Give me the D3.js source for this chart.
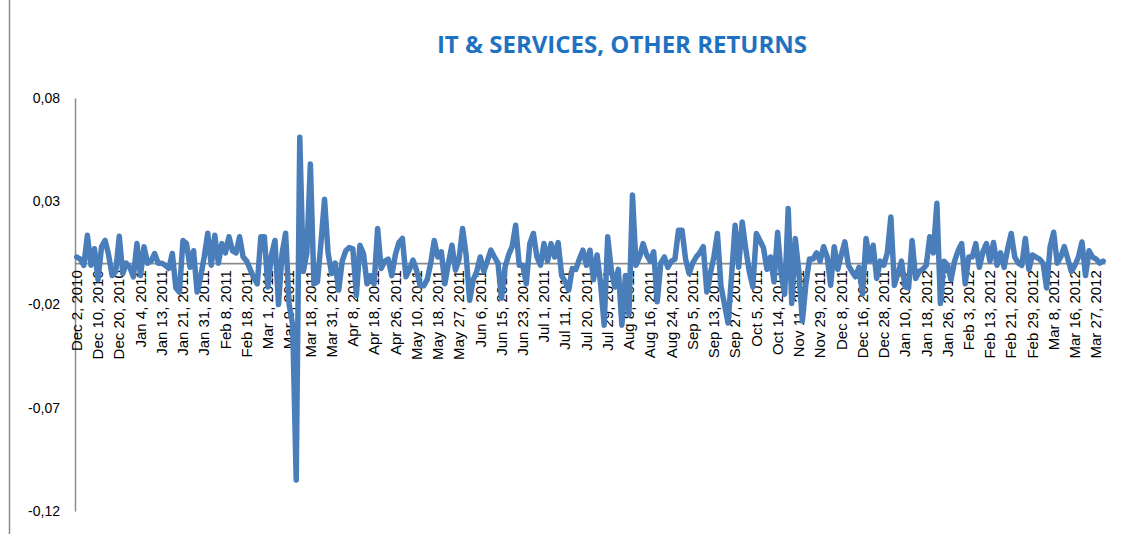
<!DOCTYPE html>
<html>
<head>
<meta charset="utf-8">
<script src="https://cdn.jsdelivr.net/npm/d3@7"></script>
<style>
  body { margin: 0; background: #fff; }
  text { font-family: "Liberation Sans", Arial, sans-serif; }
</style>
</head>
<body>
<div id="chart"></div>
<script>
    // chart data
    var title = "IT & SERVICES, OTHER RETURNS";
    var tickLabels = ["Dec 2, 2010", "Dec 10, 2010", "Dec 20, 2010", "Jan 4, 2011", "Jan 13, 2011", "Jan 21, 2011", "Jan 31, 2011",
      "Feb 8, 2011", "Feb 18, 2011", "Mar 1, 2011", "Mar 9, 2011", "Mar 18, 2011", "Mar 31, 2011", "Apr 8, 2011", "Apr 18, 2011",
      "Apr 26, 2011", "May 10, 2011", "May 18, 2011", "May 27, 2011", "Jun 6, 2011", "Jun 15, 2011", "Jun 23, 2011", "Jul 1, 2011",
      "Jul 11, 2011", "Jul 20, 2011", "Jul 29, 2011", "Aug 8, 2011", "Aug 16, 2011", "Aug 24, 2011", "Sep 5, 2011", "Sep 13, 2011",
      "Sep 27, 2011", "Oct 5, 2011", "Oct 14, 2011", "Nov 11, 2011", "Nov 29, 2011", "Dec 8, 2011", "Dec 16, 2011", "Dec 28, 2011",
      "Jan 10, 2012", "Jan 18, 2012", "Jan 26, 2012", "Feb 3, 2012", "Feb 13, 2012", "Feb 21, 2012", "Feb 29, 2012", "Mar 8, 2012",
      "Mar 16, 2012", "Mar 27, 2012"];
    var labelStep = 6;
    var yTicks = [-0.12, -0.07, -0.02, 0.03, 0.08];
    var returns = [
      0.003, 0.002, -0.001, 0.0135, -0.001, 0.007, -0.008, 0.008, 0.011, 0.004, -0.006, -0.004,
      0.013, -0.005, 0.0, -0.002, -0.0066, 0.0095, -0.006, 0.008, 0.0, 0.001, 0.0047, 0.0,
      0.0, -0.001, -0.0025, 0.0047, -0.012, -0.014, 0.011, 0.0095, -0.002, 0.006, -0.014, -0.0066,
      0.003, 0.0145, -0.001, 0.0135, 0.0, 0.0095, 0.005, 0.0128, 0.006, 0.005, 0.0128, 0.003,
      0.001, -0.003, -0.007, -0.01, 0.0128, 0.0128, -0.0115, 0.004, 0.011, -0.02, 0.0047, 0.0145,
      -0.02, -0.03, -0.105, 0.061, -0.004, 0.005, 0.048, -0.01, -0.009, 0.01, 0.031, 0.005,
      -0.005, 0.0, -0.013, 0.001, 0.006, 0.0076, 0.007, -0.0155, 0.0087, 0.0047, -0.01, -0.006,
      -0.01, 0.0168, -0.0026, 0.001, 0.002, -0.006, 0.004, 0.01, 0.012, -0.0066, -0.003, 0.0015,
      -0.0034, -0.0107, -0.011, -0.008, 0.0, 0.011, 0.003, 0.0055, -0.01, 0.0, 0.0087, -0.0034,
      0.002, 0.0168, 0.004, -0.018, -0.008, -0.004, 0.003, -0.004, 0.001, 0.0063, 0.003, 0.0,
      -0.017, -0.002, 0.004, 0.008, 0.0184, -0.001, -0.001, -0.01, 0.0095, 0.0144, 0.003, -0.001,
      0.0095, 0.001, 0.0095, 0.003, 0.01, -0.006, -0.009, -0.013, -0.0026, -0.003, 0.002, 0.0063,
      -0.001, 0.0063, -0.008, 0.004, -0.01, -0.03, 0.0128, -0.003, -0.0115, -0.003, -0.03, -0.006,
      -0.025, 0.033, -0.001, 0.003, 0.0095, 0.004, 0.001, 0.0055, -0.0187, 0.0, 0.003, -0.002,
      0.001, 0.002, 0.016, 0.016, 0.002, -0.005, 0.0, 0.003, 0.005, 0.008, -0.014, -0.005,
      0.003, 0.0144, -0.011, -0.02, -0.029, -0.006, 0.0184, -0.002, 0.02, 0.007, -0.004, -0.0115,
      0.0144, 0.011, 0.0075, -0.003, 0.003, -0.009, 0.015, -0.005, -0.015, 0.0265, -0.0195, 0.012,
      -0.004, -0.028, -0.01, 0.002, 0.002, 0.005, 0.001, 0.008, 0.003, -0.0107, 0.008, -0.003,
      0.004, 0.0103, -0.001, -0.004, -0.0066, -0.002, -0.015, 0.012, 0.001, 0.0087, -0.0074, 0.001,
      -0.001, 0.005, 0.0224, -0.0107, -0.005, 0.001, -0.0115, -0.012, 0.011, -0.0074, -0.004, -0.003,
      -0.001, 0.0128, 0.005, 0.029, -0.0195, 0.001, -0.001, -0.008, 0.001, 0.006, 0.0095, -0.01,
      0.003, 0.003, 0.0095, -0.002, 0.0055, 0.0095, 0.001, 0.01, -0.001, 0.005, -0.002, 0.007,
      0.0144, 0.003, 0.0, -0.001, 0.012, -0.003, 0.004, 0.003, 0.002, 0.0, -0.012, 0.008,
      0.015, 0.0, 0.003, 0.008, 0.002, -0.004, -0.001, 0.003, 0.0103, -0.006, 0.006, 0.003,
      0.002, 0.0, 0.001];

    var width = 1121, height = 534;
    var svg = d3.select("#chart").append("svg").attr("width", width).attr("height", height);

    // outer frame edge on the left
    svg.append("line").attr("x1", 9.5).attr("x2", 9.5).attr("y1", 0).attr("y2", height)
      .style("stroke", "#8c8c8c").style("stroke-width", 1.5);

    svg.append("text")
      .attr("x", 622).attr("y", 53)
      .style("text-anchor", "middle")
      .style("font-family", "'Open Sans', sans-serif")
      .style("font-weight", "bold")
      .style("font-size", "24px")
      .style("fill", "#1f72c2")
      .text(title);

    var x = d3.scaleBand().domain(d3.range(returns.length)).range([75, 1105]);
    var y = d3.scaleLinear().domain([-0.12, 0.08]).range([511, 98]);
    var comma = d3.formatLocale({decimal: ",", thousands: ".", grouping: [3], currency: ["", ""], minus: "-"}).format(".2f");

    // y axis
    var yAxis = svg.append("g").attr("transform", "translate(75,0)")
      .call(d3.axisLeft(y).tickValues(yTicks).tickFormat(comma).tickSize(0).tickPadding(15));
    yAxis.select(".domain").style("stroke", "#8c8c8c").style("stroke-width", 1.5);
    yAxis.selectAll("text").style("font-size", "14px").style("fill", "#000")
      .style("font-family", "'Liberation Sans', Arial, sans-serif");

    // x axis at zero
    var xAxis = svg.append("g").attr("transform", "translate(0," + y(0) + ")")
      .call(d3.axisBottom(x)
        .tickValues(d3.range(0, returns.length, labelStep))
        .tickFormat(function(d) { return tickLabels[d / labelStep]; })
        .tickSize(0).tickSizeOuter(0));
    xAxis.select(".domain").style("stroke", "#8c8c8c").style("stroke-width", 1.8);
    xAxis.selectAll("text")
      .attr("transform", "rotate(-90)")
      .attr("x", -7).attr("y", 0).attr("dy", "0.35em")
      .style("text-anchor", "end")
      .style("font-size", "15px").style("fill", "#000")
      .style("font-family", "'Liberation Sans', Arial, sans-serif");

    // series
    var line = d3.line()
      .x(function(d, i) { return x(i) + x.bandwidth() / 2; })
      .y(function(d) { return y(d); });

    svg.append("path").datum(returns)
      .attr("d", line)
      .style("fill", "none")
      .style("stroke", "#4a7ebb")
      .style("stroke-width", 5.5)
      .style("stroke-linejoin", "round")
      .style("stroke-linecap", "round");
</script>
</body>
</html>
